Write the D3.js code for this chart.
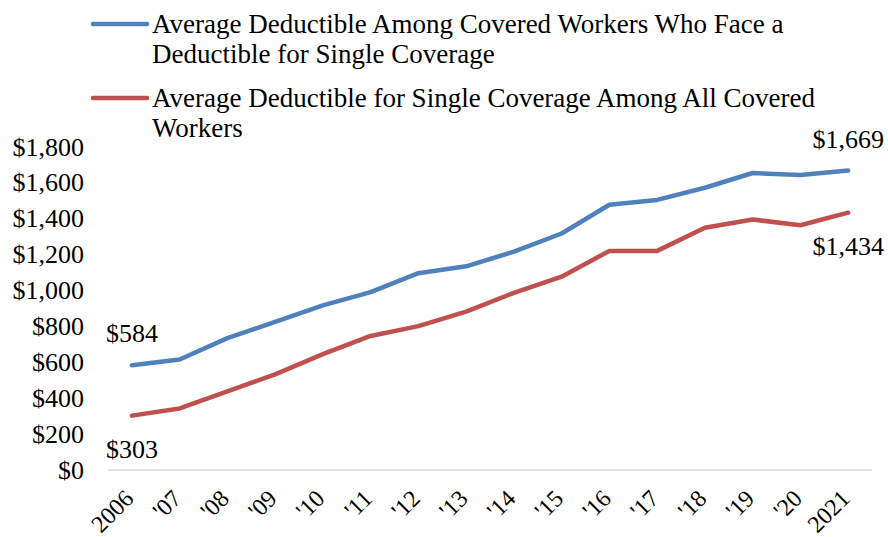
<!DOCTYPE html>
<html>
<head>
<meta charset="utf-8">
<script src="https://cdn.jsdelivr.net/npm/d3@7"></script>
<style>
  html, body { margin: 0; padding: 0; background: #fff; }
  svg { display: block; }
</style>
</head>
<body>
<svg id="chart" width="888" height="537"></svg>
<script>
// Average annual deductible for single coverage, 2006–2021
const years = ["2006", "'07", "'08", "'09", "'10", "'11", "'12", "'13", "'14", "'15", "'16", "'17", "'18", "'19", "'20", "2021"];
const facingDeductible = [584, 616, 735, 826, 917, 991, 1097, 1135, 1217, 1318, 1478, 1505, 1573, 1655, 1644, 1669];
const allCovered = [303, 343, 438, 533, 646, 747, 802, 883, 987, 1077, 1221, 1221, 1350, 1396, 1364, 1434];
const yTicks = [0, 200, 400, 600, 800, 1000, 1200, 1400, 1600, 1800];
const seriesNames = [
  ["Average Deductible Among Covered Workers Who Face a", "Deductible for Single Coverage"],
  ["Average Deductible for Single Coverage Among All Covered", "Workers"]
];
const colors = ["#4f81bd", "#c0504d"];
const serif = "'Liberation Serif', 'Times New Roman', serif";

const svg = d3.select("#chart");
const x = d3.scaleBand().domain(years).range([108, 872]);
const y = d3.scaleLinear().domain([0, 1800]).range([470, 147]);
const fmt = v => "$" + d3.format(",")(v);
const cx = d => x(d) + x.bandwidth() / 2;

// Y axis labels
svg.append("g")
  .selectAll("text")
  .data(yTicks)
  .join("text")
  .attr("x", 84)
  .attr("y", d => y(d))
  .attr("dy", "0.33em")
  .attr("text-anchor", "end")
  .style("font-family", serif)
  .style("font-size", "26px")
  .attr("fill", "#000")
  .text(fmt);

// Baseline
svg.append("line")
  .attr("x1", 108).attr("x2", 872)
  .attr("y1", y(0)).attr("y2", y(0))
  .attr("stroke", "#d9d9d9").attr("stroke-width", 1.5);

// X axis labels, rotated
svg.append("g")
  .selectAll("text")
  .data(years)
  .join("text")
  .attr("transform", d => `translate(${cx(d) + 3},${y(0) + 30}) rotate(-45)`)
  .attr("text-anchor", "end")
  .style("font-family", serif)
  .style("font-size", "24px")
  .attr("fill", "#000")
  .text(d => d);

// Lines
const line = d3.line()
  .x((d, i) => cx(years[i]))
  .y(d => y(d));

[facingDeductible, allCovered].forEach((s, k) => {
  svg.append("path")
    .datum(s)
    .attr("d", line)
    .attr("fill", "none")
    .attr("stroke", colors[k])
    .attr("stroke-width", 4.5)
    .attr("stroke-linejoin", "round")
    .attr("stroke-linecap", "round");
});

// End-point value labels
const last = years.length - 1;
const endLabels = [
  { v: facingDeductible[0], i: 0, off: -23 },
  { v: allCovered[0], i: 0, off: 42 },
  { v: facingDeductible[last], i: last, off: -23 },
  { v: allCovered[last], i: last, off: 42 }
];
svg.append("g")
  .selectAll("text")
  .data(endLabels)
  .join("text")
  .attr("x", d => cx(years[d.i]))
  .attr("y", d => y(d.v) + d.off)
  .attr("text-anchor", "middle")
  .style("font-family", serif)
  .style("font-size", "26px")
  .attr("fill", "#000")
  .text(d => fmt(d.v));

// Legend
const legendTops = [24, 98];
seriesNames.forEach((lines, k) => {
  const g = svg.append("g");
  g.append("line")
    .attr("x1", 93).attr("x2", 147)
    .attr("y1", legendTops[k]).attr("y2", legendTops[k])
    .attr("stroke", colors[k]).attr("stroke-width", 4.5)
    .attr("stroke-linecap", "round");
  lines.forEach((t, j) => {
    g.append("text")
      .attr("x", 152)
      .attr("y", legendTops[k] + 9 + j * 30)
      .style("font-family", serif)
      .style("font-size", "27px")
      .attr("fill", "#000")
      .text(t);
  });
});
</script>
</body>
</html>
